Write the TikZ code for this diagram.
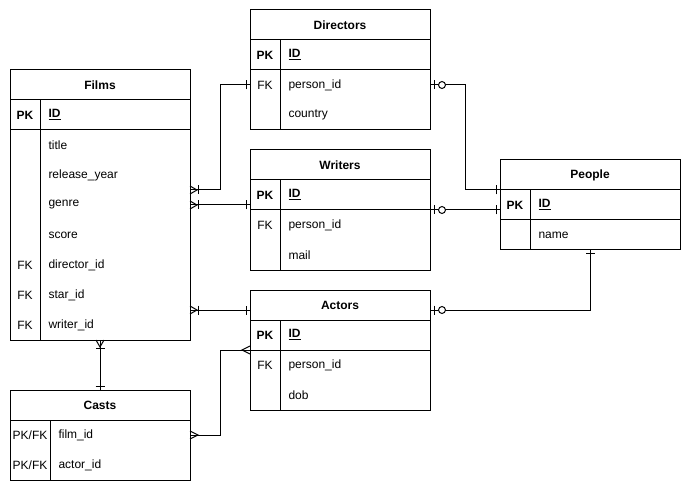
\documentclass[tikz,border=0pt]{standalone}
\usepackage{fontspec}
\setmainfont{Liberation Sans}
\usetikzlibrary{positioning}

\begin{document}
\begin{tikzpicture}[x=0.75pt, y=-0.75pt, line width=0.75pt, font=\fontsize{9}{11}\selectfont]
\tikzstyle{entityStyle}=[draw, anchor=north west, minimum width=135pt, inner sep=0pt, outer sep=0pt]
\tikzstyle{headStyle}=[font=\fontsize{9}{11}\selectfont\bfseries, inner sep=0pt]
\tikzstyle{keyStyle}=[inner sep=0pt]
\tikzstyle{pkStyle}=[inner sep=0pt, font=\fontsize{9}{11}\selectfont\bfseries]
\tikzstyle{fieldStyle}=[anchor=west, inner sep=0pt]
\tikzset{
  erMany/.pic={\draw (0,-4) -- (8,0) -- (0,4);},
  erOneMany/.pic={\draw (0,-4) -- (7,0) -- (0,4); \draw (8,-4.5) -- (8,4.5);},
  erMandOne/.pic={\draw (4,-4.5) -- (4,4.5);},
  erZeroOne/.pic={\draw (4,-4.5) -- (4,4.5); \draw[fill=white] (12,0) circle (2.6pt);}
}
\useasboundingbox (0,0) rectangle (691,491);

% Films
\node[entityStyle, minimum height=202.5pt] (films) at (10,70) {};
\draw (films.north west) ++(0,30) -- ++(180,0);
\draw (films.north west) ++(0,60) -- ++(180,0);
\draw (films.north west) ++(30,30) -- ++(0,240);
\node[headStyle] (filmsT) at (100,85) {Films};
\node[pkStyle] at (25,115) {PK};
\node[fieldStyle, font=\fontsize{9}{11}\selectfont\bfseries] (fid) at (48,115) {\underline{ID}};
\node[fieldStyle] (ftitle) at (48,145) {title};
\node[fieldStyle] (fyear) at (48,175) {release\_year};
\node[fieldStyle] (fgenre) at (48,205) {genre};
\node[fieldStyle] (fscore) at (48,235) {score};
\node[keyStyle] at (25,265) {FK};
\node[fieldStyle] (fdir) at (48,265) {director\_id};
\node[keyStyle] at (25,295) {FK};
\node[fieldStyle] (fstar) at (48,295) {star\_id};
\node[keyStyle] at (25,325) {FK};
\node[fieldStyle] (fwriter) at (48,325) {writer\_id};

% Directors
\node[entityStyle, minimum height=90pt] (directors) at (250,10) {};
\draw (directors.north west) ++(0,30) -- ++(180,0);
\draw (directors.north west) ++(0,60) -- ++(180,0);
\draw (directors.north west) ++(30,30) -- ++(0,90);
\node[headStyle] (directorsT) at (340,25) {Directors};
\node[pkStyle] at (265,55) {PK};
\node[fieldStyle, font=\fontsize{9}{11}\selectfont\bfseries] (did) at (288,55) {\underline{ID}};
\node[keyStyle] at (265,85) {FK};
\node[fieldStyle] (dpid) at (288,85) {person\_id};
\node[fieldStyle] (dcountry) at (288,115) {country};

% Writers
\node[entityStyle, minimum height=90pt] (writers) at (250,150) {};
\draw (writers.north west) ++(0,30) -- ++(180,0);
\draw (writers.north west) ++(0,60) -- ++(180,0);
\draw (writers.north west) ++(30,30) -- ++(0,90);
\node[headStyle] (writersT) at (340,165) {Writers};
\node[pkStyle] at (265,195) {PK};
\node[fieldStyle, font=\fontsize{9}{11}\selectfont\bfseries] (wid) at (288,195) {\underline{ID}};
\node[keyStyle] at (265,225) {FK};
\node[fieldStyle] (wpid) at (288,225) {person\_id};
\node[fieldStyle] (wmail) at (288,255) {mail};

% Actors
\node[entityStyle, minimum height=90pt] (actors) at (250,290) {};
\draw (actors.north west) ++(0,30) -- ++(180,0);
\draw (actors.north west) ++(0,60) -- ++(180,0);
\draw (actors.north west) ++(30,30) -- ++(0,90);
\node[headStyle] (actorsT) at (340,305) {Actors};
\node[pkStyle] at (265,335) {PK};
\node[fieldStyle, font=\fontsize{9}{11}\selectfont\bfseries] (aid) at (288,335) {\underline{ID}};
\node[keyStyle] at (265,365) {FK};
\node[fieldStyle] (apid) at (288,365) {person\_id};
\node[fieldStyle] (adob) at (288,395) {dob};

% People
\node[entityStyle, minimum height=67.5pt] (people) at (500,160) {};
\draw (people.north west) ++(0,30) -- ++(180,0);
\draw (people.north west) ++(0,60) -- ++(180,0);
\draw (people.north west) ++(30,30) -- ++(0,60);
\node[headStyle] (peopleT) at (590,175) {People};
\node[pkStyle] at (515,205) {PK};
\node[fieldStyle, font=\fontsize{9}{11}\selectfont\bfseries] (pid) at (538,205) {\underline{ID}};
\node[fieldStyle] (pname) at (538,235) {name};

% Casts
\node[entityStyle, minimum height=67.5pt] (casts) at (10,390) {};
\draw (casts.north west) ++(0,30) -- ++(180,0);
\draw (casts.north west) ++(40,30) -- ++(0,60);
\node[headStyle] (castsT) at (100,405) {Casts};
\node[keyStyle] at (30,435) {PK/FK};
\node[fieldStyle] (cfilm) at (58,435) {film\_id};
\node[keyStyle] at (30,465) {PK/FK};
\node[fieldStyle] (cactor) at (58,465) {actor\_id};

% relations
\coordinate (aLink) at ([yshift=30pt]actors.west);
\coordinate (paLink) at ([yshift=30pt]actors.east);
\draw ([yshift=11.25pt]films.east) pic{erOneMany} -- ++(30,0) |- (dpid -| directors.west) pic[rotate=180]{erMandOne};
\draw (films.east) pic{erOneMany} -- (films.east -| writers.west) pic[rotate=180]{erMandOne};
\draw (films.east |- aLink) pic{erOneMany} -- (aLink) pic[rotate=180]{erMandOne};
\draw (films.south) pic[rotate=-90]{erOneMany} -- (casts.north) pic[rotate=90]{erMandOne};
\draw (casts.east) pic{erMany} -- ++(30,0) |- (actors.west) pic[rotate=180]{erMany};
\draw (dpid -| directors.east) pic{erZeroOne} -- ++(35,0) |- ([yshift=11.25pt]people.west) pic[rotate=180]{erMandOne};
\draw (writers.east) pic{erZeroOne} -- (writers.east -| people.west) pic[rotate=180]{erMandOne};
\draw (paLink) pic{erZeroOne} -| (people.south) pic[rotate=-90]{erMandOne};
\end{tikzpicture}
\end{document}
